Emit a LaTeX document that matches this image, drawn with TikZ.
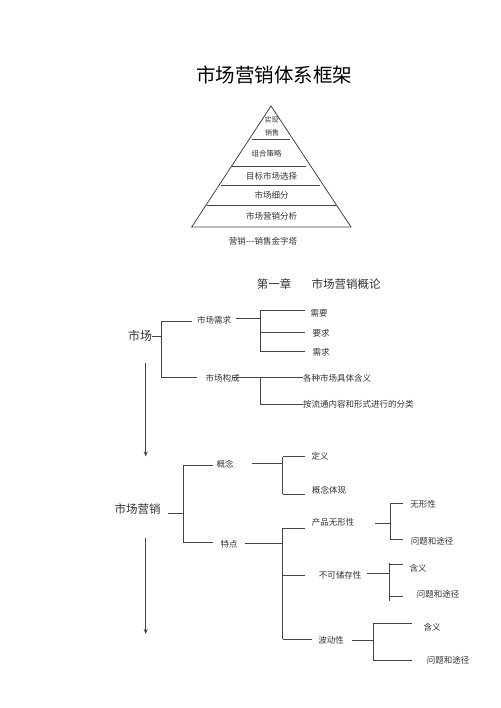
\documentclass[tikz,border=0pt]{standalone}
\usepackage{fontspec}
\setmainfont{Noto Sans CJK SC}
\usetikzlibrary{arrows.meta}
\definecolor{lncol}{HTML}{444444}
\definecolor{txtcol}{HTML}{333333}
\begin{document}
\begin{tikzpicture}[x=1pt,y=-1pt,
  ln/.style={draw=lncol,line width=0.8pt},
  lbl/.style={text=txtcol,font=\fontsize{8.5}{10}\selectfont,inner sep=0pt},
  plbl/.style={text=txtcol,font=\fontsize{8.5}{10}\selectfont,inner sep=0pt},
  big/.style={text=txtcol,font=\fontsize{11.5}{13}\selectfont,inner sep=0pt},
  arr/.style={ln,-{Stealth[length=5pt,width=4pt]}}]
\useasboundingbox (0,0) rectangle (500,708);
\fill[white] (0,0) rectangle (500,708);

% title
\node[inner sep=0pt,font=\fontsize{19.5}{22}\selectfont] (title) at (274,75) {市场营销体系框架};

% pyramid
\coordinate (apex) at (271,106);
\coordinate (bl) at (191.7,227);
\coordinate (br) at (351,227);
\draw[ln] (apex) -- (bl) -- (br) -- cycle;
\coordinate (p1l) at (251.7,139.7); \coordinate (p1r) at (290,139.7);
\coordinate (p2l) at (231.7,166); \coordinate (p2r) at (306,166);
\coordinate (p3l) at (221,185.3); \coordinate (p3r) at (320,185.3);
\coordinate (p4l) at (206.7,205.3); \coordinate (p4r) at (335.7,205.3);
\draw[ln] (p1l) -- (p1r);
\draw[ln] (p2l) -- (p2r);
\draw[ln] (p3l) -- (p3r);
\draw[ln] (p4l) -- (p4r);
\node[plbl,font=\fontsize{7}{8}\selectfont] (py1) at (271.7,120) {实现};
\node[plbl,font=\fontsize{7}{8}\selectfont] (py2) at (272,132.7) {销售};
\node[plbl,font=\fontsize{7.5}{9}\selectfont] (py3) at (266.7,153.3) {组合策略};
\node[plbl] (py4) at (271.7,176) {目标市场选择};
\node[plbl] (py5) at (271.7,195) {市场细分};
\node[plbl] (py6) at (271.7,216) {市场营销分析};
\node[plbl] (pycap) at (263,241.7) {营销\mbox{-}\mbox{-}\mbox{-}销售金字塔};

% chapter title
\node[big] (ch1) at (274.2,284) {第一章};
\node[big] (ch2) at (346,284) {市场营销概论};

% ----- 市场 -----
\node[big,font=\fontsize{12}{14}\selectfont] (sc) at (140,336) {市场};
\coordinate (scj) at (161,336.5);
\draw[ln] (sc.east) ++(0,0.5) -- (scj);
\coordinate (sct) at (161,321);
\coordinate (scb) at (161,377.3);
\draw[ln] (sct) -- (scb);
\node[lbl] (xq) at (214,320) {市场需求};
\node[lbl] (gc) at (222.5,378) {市场构成};
\draw[ln] (sct) -- (191.7,321);
\draw[ln] (scb) -- (196.7,377.3);
% 市场需求 branch
\coordinate (xqj) at (260,318.3);
\draw[ln] (xq.east) ++(5,-1.7) -- (xqj);
\coordinate (xqt) at (260,310);
\coordinate (xqb) at (260,351);
\draw[ln] (xqt) -- (xqb);
\node[lbl] (xy) at (319,313) {需要};
\node[lbl] (yq) at (321,333) {要求};
\node[lbl] (xqq) at (321,352) {需求};
\draw[ln] (xqt) -- (305,310);
\draw[ln] (260,332.7) -- (305,332.7);
\draw[ln] (xqb) -- (305,351);
% 市场构成 branch
\node[lbl,anchor=west] (gc1) at (303,378) {各种市场具体含义};
\node[lbl,anchor=west] (gc2) at (303,404.5) {按流通内容和形式进行的分类};
\coordinate (gcj) at (260,377.3);
\draw[ln] (231.7,377.3) -- (gc1.west |- gcj);
\draw[ln] (gcj) -- (260,404.3) -- (gc2.west |- 0,404.3);

% arrow 1
\coordinate (a1s) at (145.7,362.7);
\coordinate (a1e) at (145.7,456.5);
\draw[arr] (a1s) -- (a1e);

% ----- 市场营销 -----
\node[big] (yx) at (137.5,509.5) {市场营销};
\coordinate (yxj) at (183.3,513.3);
\draw[ln] (168.3,513.3) -- (yxj);
\coordinate (yxt) at (183.3,465);
\coordinate (yxb) at (183.3,542.7);
\draw[ln] (yxt) -- (yxb);
\draw[ln] (yxt) -- (213.3,465);
\draw[ln] (yxb) -- (213.3,542.7);
\node[lbl] (gn) at (225,464) {概念};
\node[lbl] (td) at (229,544) {特点};
% 概念 branch
\coordinate (gnj) at (282.7,463.3);
\draw[ln] (251.7,463.3) -- (gnj);
\draw[ln] (282.7,456.7) -- (282.7,494);
\draw[ln] (282.7,456.7) -- (305,456.7);
\draw[ln] (282.7,494) -- (305,494);
\node[lbl] (dy) at (320,456.7) {定义};
\node[lbl] (gntx) at (329,490.7) {概念体现};
% 特点 branch
\coordinate (tdj) at (282.7,543.3);
\draw[ln] (245,543.3) -- (tdj);
\draw[ln] (282.7,528.3) -- (282.7,639.3);
\draw[ln] (282.7,528.3) -- (305,528.3);
\draw[ln] (282.7,575.7) -- (305,575.7);
\draw[ln] (282.7,639.3) -- (311.7,639.3);
\node[lbl] (wx) at (333,522.7) {产品无形性};
\node[lbl] (bk) at (340,575) {不可储存性};
\node[lbl] (bd) at (331,640) {波动性};
% 产品无形性 branch
\draw[ln] (375,523.3) -- (390,523.3);
\draw[ln] (390,503.3) -- (390,539.3);
\draw[ln] (390,503.3) -- (403.3,503.3);
\draw[ln] (390,539.3) -- (403.3,539.3);
\node[lbl] (wx1) at (423,504) {无形性};
\node[lbl] (wx2) at (432,541) {问题和途径};
% 不可储存性 branch
\draw[ln] (366.7,573.3) -- (389.3,573.3);
\draw[ln] (389.3,563.3) -- (389.3,600.7);
\draw[ln] (389.3,564.7) -- (403.3,564.7);
\draw[ln] (389.3,596) -- (403.3,596);
\node[lbl] (bk1) at (418,568.3) {含义};
\node[lbl] (bk2) at (438,594.3) {问题和途径};
% 波动性 branch
\draw[ln] (351.7,640) -- (373.3,640);
\draw[ln] (373.3,623.3) -- (373.3,660);
\draw[ln] (373.3,623.3) -- (411.7,623.3);
\draw[ln] (373.3,660) -- (411.7,660);
\node[lbl] (bd1) at (432,627.7) {含义};
\node[lbl] (bd2) at (448,660) {问题和途径};

% arrow 2
\coordinate (a2s) at (145.7,538.3);
\coordinate (a2e) at (145.7,634);
\draw[arr] (a2s) -- (a2e);
\end{tikzpicture}
\end{document}
